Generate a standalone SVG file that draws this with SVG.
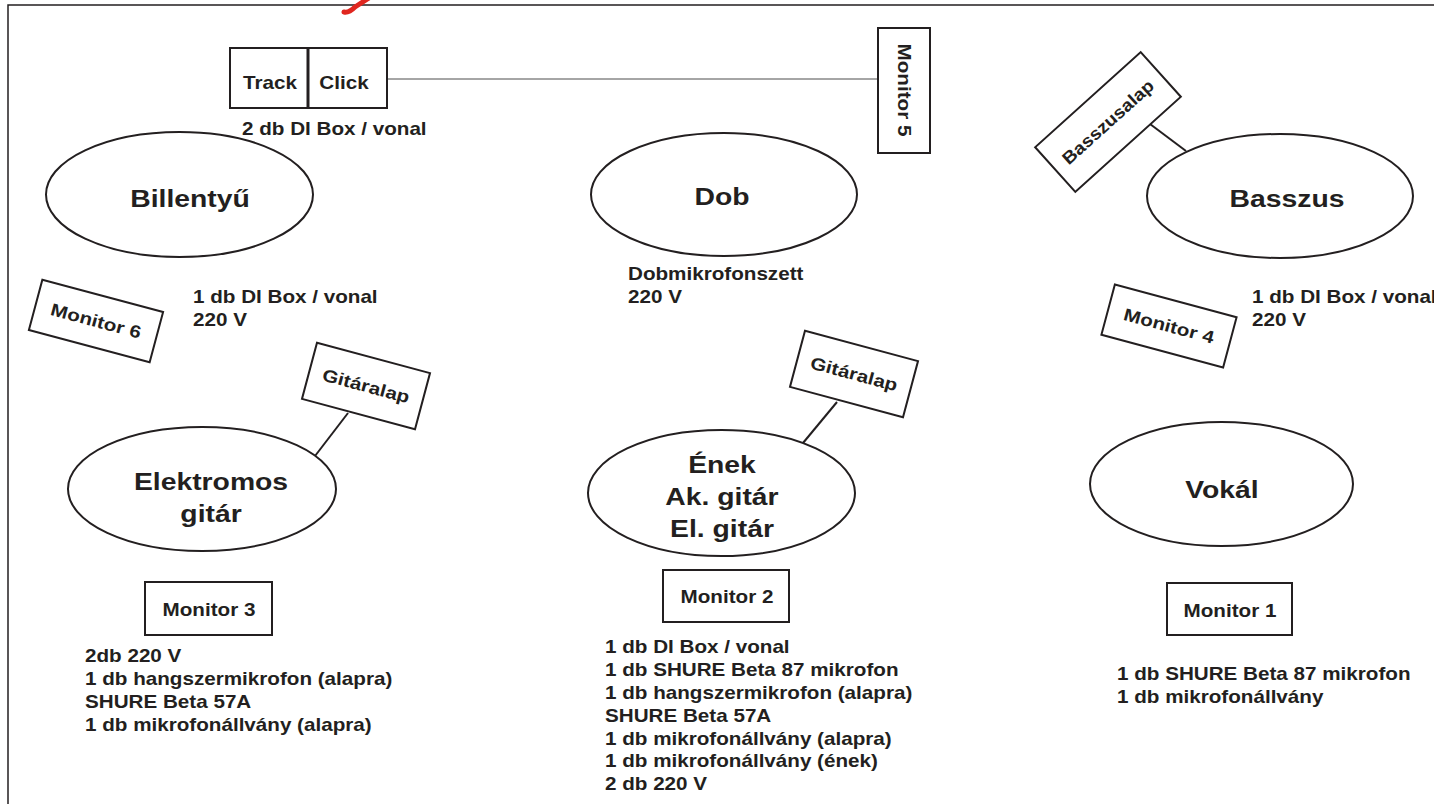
<svg xmlns="http://www.w3.org/2000/svg" width="1434" height="804" viewBox="0 0 1434 804">
<style>
.bg{fill:#ffffff}
.frame{fill:none;stroke:#231f20;stroke-width:1.5}
.box{fill:#ffffff;stroke:#231f20;stroke-width:2}
.ell{fill:#ffffff;stroke:#231f20;stroke-width:2}
.con{fill:none;stroke:#231f20;stroke-width:2}
.thin{fill:none;stroke:#4d4d4d;stroke-width:1}
text{font-family:"Liberation Sans",Arial,sans-serif;font-weight:bold;fill:#231f20}
.s{font-size:17.5px}
.b{font-size:24px}
.m{text-anchor:middle}
</style>
<rect class="bg" x="0" y="0" width="1434" height="804"/>
<path class="frame" d="M8,804 L8,5 L1434,5"/>
<path d="M344,12 Q349,13 355,7 L369,-2" fill="none" stroke="#e0261f" stroke-width="5" stroke-linecap="round" stroke-linejoin="round"/>

<g id="connectors">
  <line class="thin" x1="387" y1="79" x2="878" y2="79"/>
  <line class="con" x1="348" y1="413" x2="315" y2="456"/>
  <line class="con" x1="837" y1="402" x2="803" y2="443"/>
  <line class="con" x1="1150" y1="124" x2="1186" y2="151"/>
</g>

<g id="track-click">
  <rect class="box" x="230" y="48" width="157" height="60"/>
  <line x1="308" y1="48" x2="308" y2="108" stroke="#231f20" stroke-width="3"/>
  <text class="s m" transform="translate(270,89) scale(1.18,1)">Track</text>
  <text class="s m" transform="translate(344,89) scale(1.18,1)">Click</text>
</g>
<g id="track-note"><text class="s" transform="translate(242,135) scale(1.18,1)">2 db DI Box / vonal</text></g>

<g id="monitor5">
  <rect class="box" x="878" y="28" width="52" height="125"/>
  <text class="s m" transform="translate(904,90) rotate(90) scale(1.18,1)" y="6">Monitor 5</text>
</g>

<g id="billentyu">
  <ellipse class="ell" cx="179.5" cy="194.5" rx="133.5" ry="62.5"/>
  <text class="b m" transform="translate(190,207) scale(1.18,1)">Billentyű</text>
</g>
<g id="dob">
  <ellipse class="ell" cx="724" cy="194.5" rx="133" ry="61.5"/>
  <text class="b m" transform="translate(722,205) scale(1.18,1)">Dob</text>
</g>
<g id="basszus">
  <ellipse class="ell" cx="1280" cy="196" rx="133" ry="62"/>
  <text class="b m" transform="translate(1287,207) scale(1.18,1)">Basszus</text>
</g>
<g id="basszusalap">
  <rect class="box" x="-71" y="-30" width="142" height="60" transform="translate(1108,122) rotate(-42)"/>
  <text class="s m" transform="translate(1108,122) rotate(-42) scale(1.1,1)" y="6">Basszusalap</text>
</g>

<g id="monitor6">
  <rect class="box" x="-62.5" y="-26" width="125" height="52" transform="translate(96,321) rotate(15)"/>
  <text class="s m" transform="translate(96,321) rotate(15) scale(1.18,1)" y="6">Monitor 6</text>
</g>
<g id="billentyu-note">
  <text class="s" transform="translate(193,303) scale(1.18,1)"><tspan x="0" y="0">1 db DI Box / vonal</tspan><tspan x="0" y="23">220 V</tspan></text>
</g>
<g id="dob-note">
  <text class="s" transform="translate(628,280) scale(1.18,1)"><tspan x="0" y="0">Dobmikrofonszett</tspan><tspan x="0" y="23">220 V</tspan></text>
</g>
<g id="monitor4">
  <rect class="box" x="-63" y="-26" width="126" height="52" transform="translate(1169,326) rotate(15)"/>
  <text class="s m" transform="translate(1169,326) rotate(15) scale(1.18,1)" y="6">Monitor 4</text>
</g>
<g id="basszus-note">
  <text class="s" transform="translate(1252,303) scale(1.18,1)"><tspan x="0" y="0">1 db DI Box / vonal</tspan><tspan x="0" y="23">220 V</tspan></text>
</g>

<g id="gitaralap1">
  <rect class="box" x="-58.5" y="-29" width="117" height="58" transform="translate(366,386) rotate(15)"/>
  <text class="s m" transform="translate(366,386) rotate(15) scale(1.18,1)" y="6">Gitáralap</text>
</g>
<g id="gitaralap2">
  <rect class="box" x="-58.5" y="-29" width="117" height="58" transform="translate(854,374) rotate(15)"/>
  <text class="s m" transform="translate(854,374) rotate(15) scale(1.18,1)" y="6">Gitáralap</text>
</g>

<g id="elektromos">
  <ellipse class="ell" cx="202" cy="489" rx="134" ry="62"/>
  <text class="b m" transform="translate(211,490) scale(1.18,1)"><tspan x="0" y="0">Elektromos</tspan><tspan x="0" y="32">gitár</tspan></text>
</g>
<g id="enek">
  <ellipse class="ell" cx="721.5" cy="493" rx="133.5" ry="63"/>
  <text class="b m" transform="translate(722,473) scale(1.18,1)"><tspan x="0" y="0">Ének</tspan><tspan x="0" y="32">Ak. gitár</tspan><tspan x="0" y="64">El. gitár</tspan></text>
</g>
<g id="vokal">
  <ellipse class="ell" cx="1221.5" cy="484" rx="131.5" ry="62"/>
  <text class="b m" transform="translate(1222,498) scale(1.18,1)">Vokál</text>
</g>

<g id="monitor3">
  <rect class="box" x="145" y="582" width="127" height="53"/>
  <text class="s m" transform="translate(209,616) scale(1.18,1)">Monitor 3</text>
</g>
<g id="monitor3-note">
  <text class="s" transform="translate(85,662) scale(1.18,1)"><tspan x="0" y="0">2db 220 V</tspan><tspan x="0" y="23">1 db hangszermikrofon (alapra)</tspan><tspan x="0" y="46">SHURE Beta 57A</tspan><tspan x="0" y="69">1 db mikrofonállvány (alapra)</tspan></text>
</g>
<g id="monitor2">
  <rect class="box" x="663" y="570" width="126" height="52"/>
  <text class="s m" transform="translate(727,603) scale(1.18,1)">Monitor 2</text>
</g>
<g id="monitor2-note">
  <text class="s" transform="translate(605,653) scale(1.18,1)"><tspan x="0" y="0">1 db DI Box / vonal</tspan><tspan x="0" y="22.9">1 db SHURE Beta 87 mikrofon</tspan><tspan x="0" y="45.8">1 db hangszermikrofon (alapra)</tspan><tspan x="0" y="68.7">SHURE Beta 57A</tspan><tspan x="0" y="91.6">1 db mikrofonállvány (alapra)</tspan><tspan x="0" y="114.5">1 db mikrofonállvány (ének)</tspan><tspan x="0" y="137.4">2 db 220 V</tspan></text>
</g>
<g id="monitor1">
  <rect class="box" x="1167" y="583" width="125" height="52"/>
  <text class="s m" transform="translate(1230,617) scale(1.18,1)">Monitor 1</text>
</g>
<g id="monitor1-note">
  <text class="s" transform="translate(1117,680) scale(1.18,1)"><tspan x="0" y="0">1 db SHURE Beta 87 mikrofon</tspan><tspan x="0" y="23">1 db mikrofonállvány</tspan></text>
</g>
</svg>
